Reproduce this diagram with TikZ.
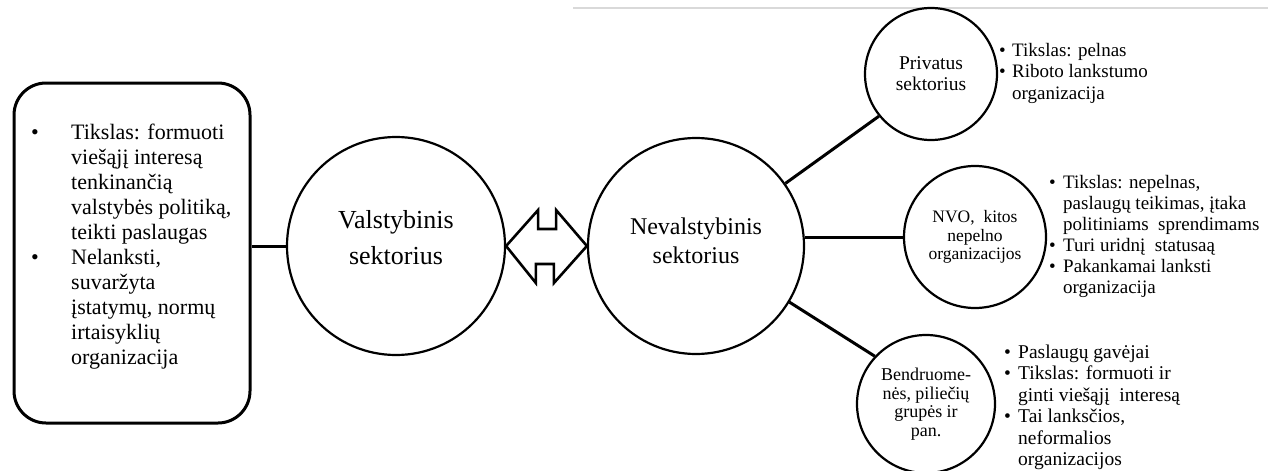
\documentclass[tikz,border=0pt]{standalone}
\usepackage{fontspec}
\setmainfont{Liberation Serif}
\usepackage{array}
\tikzset{
  bigcirc/.style={draw=black, line width=2.2pt, circle, inner sep=0pt},
  smallcirc/.style={draw=black, line width=2.2pt, circle, inner sep=0pt, align=center},
  conn/.style={draw=black, line width=3pt},
  arrowshape/.style={draw=black, line width=2.6pt, fill=white, line join=miter},
  txt/.style={anchor=north west, inner sep=0pt},
  bigtext/.style={align=center, inner sep=0pt},
}
\begin{document}
\begin{tikzpicture}[x=1pt,y=-1pt]
\useasboundingbox (0,0) rectangle (1274,471);
\fill[white] (0,0) rectangle (1274,471);
% top gray rule
\coordinate (rulea) at (573,8);
\coordinate (ruleb) at (1268,8);
\draw[black!15, line width=2pt] (rulea) -- (ruleb);

% left box
\node[draw=black, line width=3pt, rounded corners=32pt, minimum width=236pt, minimum height=340pt, inner sep=0pt] (box) at (132,253) {};
\node[txt] (boxtext) at (31,122) {\fontsize{22}{25}\selectfont
\begin{tabular}{@{}p{40pt}@{}l@{}}
\textbullet & Tikslas: formuoti\\
 & viešąjį interesą\\
 & tenkinančią\\
 & valstybės politiką,\\
 & teikti paslaugas\\
\textbullet & Nelanksti,\\
 & suvaržyta\\
 & įstatymų, normų\\
 & irtaisyklių\\
 & organizacija
\end{tabular}};

% big circles
\node[bigcirc, minimum size=218pt,
  label={[name=valsttext, bigtext, font=\fontsize{26}{36}\selectfont, yshift=8pt]center:Valstybinis\\sektorius}] (valst) at (396,246) {};
\node[bigcirc, minimum size=216pt,
  label={[name=nevtext, bigtext, font=\fontsize{24}{29}\selectfont, yshift=5pt]center:Nevalstybinis\\sektorius}] (nev) at (696,246) {};

% small circles
\node[smallcirc, minimum size=132pt, font=\fontsize{19.5}{21}\selectfont] (priv) at (931,74) {Privatus\\sektorius};
\node[smallcirc, minimum size=142pt, font=\fontsize{17.5}{18.5}\selectfont] (nvo) at (975,237) {NVO,\ \ kitos\\nepelno\\organizacijos};
\node[smallcirc, minimum size=138pt, font=\fontsize{18}{18.5}\selectfont] (bend) at (926,404) {Bendruome-\\nės, piliečių\\grupės ir\\pan.};

% connectors
\draw[conn] (valst.west) -- (valst.west -| box.east);
\draw[conn] (nev.35) -- (priv.219);
\draw[conn] (nvo.west) -- (nvo.west -| nev.east);
\draw[conn] (nev.-31) -- (bend.137);

% double arrow between the two big circles
\draw[arrowshape] (valst.east) -- ++(32,-36) -- ++(0,19) -- ++(18,0) -- ++(0,-19) -- (nev.west) -- ++(-33,37) -- ++(0,-19) -- ++(-18,0) -- ++(0,19) -- cycle;

% right texts
\node[txt] (privtext) at (999,41) {\fontsize{19}{21.5}\selectfont
\begin{tabular}{@{}p{13pt}@{}l@{}}
\textbullet & Tikslas: pelnas\\
\textbullet & Riboto lankstumo\\
 & organizacija
\end{tabular}};
\node[txt] (nvotext) at (1049,174) {\fontsize{19}{21}\selectfont
\begin{tabular}{@{}p{14pt}@{}l@{}}
\textbullet & Tikslas: nepelnas,\\
 & paslaugų teikimas, įtaka\\
 & politiniams\ \ sprendimams\\
\textbullet & Turi uridnį\ \ statusaą\\
\textbullet & Pakankamai lanksti\\
 & organizacija
\end{tabular}};
\node[txt] (bendtext) at (1004,343) {\fontsize{19.5}{21.5}\selectfont
\begin{tabular}{@{}p{14pt}@{}l@{}}
\textbullet & Paslaugų gavėjai\\
\textbullet & Tikslas: formuoti ir\\
 & ginti viešąjį\ \ interesą\\
\textbullet & Tai lanksčios,\\
 & neformalios\\
 & organizacijos
\end{tabular}};
\end{tikzpicture}
\end{document}
